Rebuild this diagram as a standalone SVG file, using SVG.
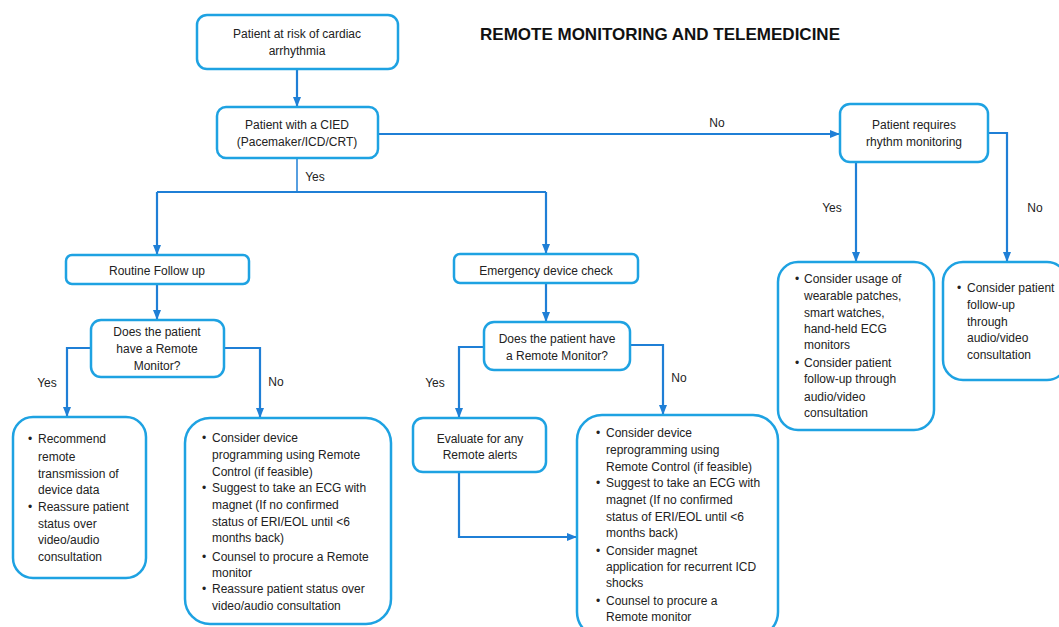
<svg xmlns="http://www.w3.org/2000/svg" width="1059" height="627" viewBox="0 0 1059 627">
<style>
  .box{fill:#fff;stroke:#1ea2e2;stroke-width:2.5}
  .t{font-family:"Liberation Sans",Arial,sans-serif;font-size:12px;fill:#222}
  .c{text-anchor:middle}
  .title{font-family:"Liberation Sans",Arial,sans-serif;font-size:16.5px;font-weight:bold;fill:#111}
  .ln{fill:none;stroke:#1f7fd6;stroke-width:2.2}
  .ar{marker-end:url(#ah)}
</style>
<defs>
  <marker id="ah" markerUnits="userSpaceOnUse" markerWidth="10" markerHeight="10" viewBox="0 0 10 10" refX="10" refY="5" orient="auto">
    <path d="M0,1 L10,5 L0,9 Z" fill="#1f7fd6"/>
  </marker>
</defs>
<rect width="1059" height="627" fill="#fff"/>
<text class="title" x="480" y="40" textLength="360" lengthAdjust="spacingAndGlyphs">REMOTE MONITORING AND TELEMEDICINE</text>

<g id="connectors">
  <path class="ln ar" d="M297,69 V107"/>
  <path class="ln ar" d="M378,134 H840"/>
  <text class="t c" x="717" y="127">No</text>
  <path class="ln" d="M297,158 V192" style="stroke-width:1.5"/>
  <path class="ln" d="M157,192 H546"/>
  <path class="ln ar" d="M157,192 V255"/>
  <path class="ln ar" d="M546,192 V254"/>
  <text class="t c" x="315" y="181">Yes</text>
  <path class="ln ar" d="M157,284 V320"/>
  <path class="ln ar" d="M91,348 H67 V417"/>
  <text class="t c" x="47" y="387">Yes</text>
  <path class="ln ar" d="M224,348 H260 V418"/>
  <text class="t c" x="276" y="386">No</text>
  <path class="ln ar" d="M546,283 V322"/>
  <path class="ln ar" d="M484,347 H459 V418"/>
  <text class="t c" x="435" y="387">Yes</text>
  <path class="ln ar" d="M630,345 H663 V415"/>
  <text class="t c" x="679" y="382">No</text>
  <path class="ln ar" d="M459,472 V537 H577"/>
  <path class="ln ar" d="M856,162 V262"/>
  <text class="t c" x="832" y="212">Yes</text>
  <path class="ln ar" d="M988,133 H1007 V262"/>
  <text class="t c" x="1035" y="212">No</text>
</g>

<g id="n_risk">
  <rect class="box" x="197" y="15" width="201" height="54" rx="10"/>
  <text class="t c" x="297" y="38">Patient at risk of cardiac</text>
  <text class="t c" x="297" y="55">arrhythmia</text>
</g>
<g id="n_cied">
  <rect class="box" x="217" y="107" width="161" height="51" rx="9"/>
  <text class="t c" x="297" y="129">Patient with a CIED</text>
  <text class="t c" x="297" y="146">(Pacemaker/ICD/CRT)</text>
</g>
<g id="n_rhythm">
  <rect class="box" x="840" y="104" width="148" height="58" rx="10"/>
  <text class="t c" x="914" y="129">Patient requires</text>
  <text class="t c" x="914" y="146">rhythm monitoring</text>
</g>
<g id="n_routine">
  <rect class="box" x="66" y="255" width="183" height="29" rx="6"/>
  <text class="t c" x="157" y="275">Routine Follow up</text>
</g>
<g id="n_emergency">
  <rect class="box" x="454" y="254" width="184" height="29" rx="6"/>
  <text class="t c" x="546" y="275">Emergency device check</text>
</g>
<g id="n_dec1">
  <rect class="box" x="91" y="320" width="133" height="57" rx="10"/>
  <text class="t c" x="157" y="336">Does the patient</text>
  <text class="t c" x="157" y="353">have a Remote</text>
  <text class="t c" x="157" y="370">Monitor?</text>
</g>
<g id="n_dec2">
  <rect class="box" x="484" y="322" width="146" height="48" rx="10"/>
  <text class="t c" x="557" y="343">Does the patient have</text>
  <text class="t c" x="557" y="360">a Remote Monitor?</text>
</g>
<g id="n_recommend">
  <rect class="box" x="13" y="417" width="133" height="161" rx="20"/>
  <g class="t">
    <text x="28" y="443">•</text><text x="38" y="443">Recommend</text>
    <text x="38" y="461">remote</text>
    <text x="38" y="478">transmission of</text>
    <text x="38" y="494">device data</text>
    <text x="28" y="511">•</text><text x="38" y="511">Reassure patient</text>
    <text x="38" y="528">status over</text>
    <text x="38" y="544">video/audio</text>
    <text x="38" y="561">consultation</text>
  </g>
</g>
<g id="n_noremote1">
  <rect class="box" x="185" y="418" width="206" height="206" rx="25"/>
  <g class="t">
    <text x="202" y="442">•</text><text x="212" y="442">Consider device</text>
    <text x="212" y="459">programming using Remote</text>
    <text x="212" y="476">Control (if feasible)</text>
    <text x="202" y="492">•</text><text x="212" y="492">Suggest to take an ECG with</text>
    <text x="212" y="509">magnet (If no confirmed</text>
    <text x="212" y="526">status of ERI/EOL until &lt;6</text>
    <text x="212" y="542">months back)</text>
    <text x="202" y="561">•</text><text x="212" y="561">Counsel to procure a Remote</text>
    <text x="212" y="577">monitor</text>
    <text x="202" y="593">•</text><text x="212" y="593">Reassure patient status over</text>
    <text x="212" y="610">video/audio consultation</text>
  </g>
</g>
<g id="n_evaluate">
  <rect class="box" x="413" y="418" width="133" height="54" rx="10"/>
  <text class="t c" x="480" y="443">Evaluate for any</text>
  <text class="t c" x="480" y="459">Remote alerts</text>
</g>
<g id="n_noremote2">
  <rect class="box" x="577" y="415" width="201" height="222" rx="25"/>
  <g class="t">
    <text x="596" y="437">•</text><text x="606" y="437">Consider device</text>
    <text x="606" y="454">reprogramming using</text>
    <text x="606" y="471">Remote Control (if feasible)</text>
    <text x="596" y="487">•</text><text x="606" y="487">Suggest to take an ECG with</text>
    <text x="606" y="504">magnet (If no confirmed</text>
    <text x="606" y="521">status of ERI/EOL until &lt;6</text>
    <text x="606" y="537">months back)</text>
    <text x="596" y="555">•</text><text x="606" y="555">Consider magnet</text>
    <text x="606" y="571">application for recurrent ICD</text>
    <text x="606" y="587">shocks</text>
    <text x="596" y="605">•</text><text x="606" y="605">Counsel to procure a</text>
    <text x="606" y="621">Remote monitor</text>
  </g>
</g>
<g id="n_wearable">
  <rect class="box" x="778" y="262" width="156" height="168" rx="20"/>
  <g class="t">
    <text x="795" y="283">•</text><text x="804" y="283">Consider usage of</text>
    <text x="804" y="300">wearable patches,</text>
    <text x="804" y="317">smart watches,</text>
    <text x="804" y="333">hand-held ECG</text>
    <text x="804" y="349">monitors</text>
    <text x="795" y="367">•</text><text x="804" y="367">Consider patient</text>
    <text x="804" y="383">follow-up through</text>
    <text x="804" y="401">audio/video</text>
    <text x="804" y="417">consultation</text>
  </g>
</g>
<g id="n_followup">
  <rect class="box" x="943" y="262" width="124" height="118" rx="20"/>
  <g class="t">
    <text x="957" y="292">•</text><text x="967" y="292">Consider patient</text>
    <text x="967" y="309">follow-up</text>
    <text x="967" y="326">through</text>
    <text x="967" y="342">audio/video</text>
    <text x="967" y="359">consultation</text>
  </g>
</g>
</svg>
